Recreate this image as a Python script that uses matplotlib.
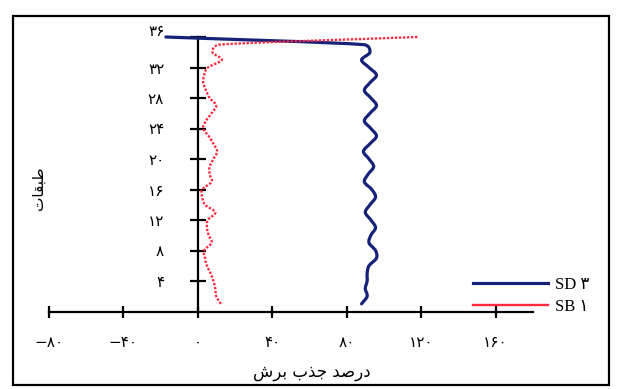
import numpy as np
import matplotlib
matplotlib.use("Agg")
import matplotlib.pyplot as plt
from matplotlib.path import Path
from matplotlib.patches import PathPatch, Rectangle
from matplotlib.lines import Line2D
from matplotlib.font_manager import FontProperties

plt.rcParams['font.family'] = ['DejaVu Sans']

# storeys 1..36 and shear share (%) for the two systems
stories = list(range(1, 37))
sb1 = [12.5, 10, 9.5, 8.5, 7, 5, 4, 3.5, 7.5, 6, 5, 5.5, 9.5, 4, 2.5, 2.5, 7.5, 6.5,
       6.5, 8.5, 10.5, 8.5, 6, 3, 4.5, 7.5, 10, 6.5, 4.5, 3, 3.5, 5.5, 13, 8, 12, 118]
sd3 = [88, 91, 90, 91, 91, 92, 96, 95.5, 92, 93, 95.5, 93, 90, 92.5, 95.5, 93.5, 89.5, 91.5,
       94.5, 92, 89, 92.5, 96, 93, 89.5, 92.5, 96, 93, 89.5, 92.5, 96, 92, 88, 92.5, 89, -17]

xticks = [-80, -40, 0, 40, 80, 120, 160]
xticklabels = ['−۸۰', '−۴۰', '۰', '۴۰', '۸۰', '۱۲۰', '۱۶۰']
yticks = [4, 8, 12, 16, 20, 24, 28, 32, 36]
yticklabels = ['۴', '۸', '۱۲', '۱۶', '۲۰', '۲۴', '۲۸', '۳۲', '']

# pre-shaped (visual order) Persian labels
xlabel = '\uFEB5\uFEAE\uFE91 \uFE8F\uFEAC\uFE9F \uFEAA\uFEBB\uFEAD\uFEA9'
ylabel = '\uFE95\uFE8E\uFED8\uFE92\uFEC3'
top_label = '۳۶'
series_names = ['SD ۳', 'SB ۱']

blue = '#16217a'
red = '#ff2a3f'

W, H = 618, 389
fig = plt.figure(figsize=(W / 100, H / 100), dpi=100)
fig.patch.set_facecolor('white')

# outer frame
fig.add_artist(Rectangle((13 / W, 1 - 385 / H), (609 - 13) / W, (385 - 16) / H,
                         transform=fig.transFigure, fill=False, lw=1.6, ec='black'))

ax = fig.add_axes([48.5 / W, 1 - 311.5 / H, (533 - 48.5) / W, (311.5 - 37) / H])
ax.set_xlim(-80, 180)
ax.set_ylim(0, 36)
ax.set_facecolor('none')

for s in ['top', 'right']:
    ax.spines[s].set_visible(False)
ax.spines['left'].set_position(('data', 0))
ax.spines['left'].set_linewidth(1.6)
ax.spines['bottom'].set_linewidth(1.6)

ax.set_xticks(xticks)
ax.set_xticklabels(xticklabels, fontsize=11)
ax.set_yticks(yticks)
ax.set_yticklabels(yticklabels, fontsize=11)
ax.tick_params(axis='x', direction='inout', length=8, width=1.6, pad=13)
ax.tick_params(axis='y', direction='inout', length=12, width=1.6, pad=18)

ax.annotate(top_label, xy=(0, 36), xytext=(-33, 6), textcoords='offset pixels',
            ha='right', va='center', fontsize=11)


def smooth_patch(xs, ys, k=0.6, **kw):
    """Smoothed line through the points (Catmull-Rom Bezier with clamped handles)."""
    pts = ax.transData.transform(np.column_stack([xs, ys]))
    P = np.vstack([2 * pts[0] - pts[1], pts, 2 * pts[-1] - pts[-2]])
    verts = [pts[0]]
    codes = [Path.MOVETO]

    def handle(v, limit):
        n = np.hypot(*v)
        return v if n <= limit or n == 0 else v * (limit / n)

    for i in range(1, len(P) - 2):
        p0, p1, p2, p3 = P[i - 1], P[i], P[i + 1], P[i + 2]
        seg = np.hypot(*(p2 - p1))
        h1 = handle((p2 - p0) / 6, k * seg)
        h2 = handle((p3 - p1) / 6, k * seg)
        verts += [p1 + h1, p2 - h2, p2]
        codes += [Path.CURVE4] * 3
    verts = ax.transData.inverted().transform(np.array(verts))
    patch = PathPatch(Path(verts, codes), fill=False, transform=ax.transData,
                      clip_on=False, **kw)
    ax.add_patch(patch)


smooth_patch(sd3, stories, ec=blue, lw=2.3, capstyle='round', joinstyle='round', zorder=3)
smooth_patch(sb1, stories, ec=red, lw=1.7, linestyle=(0, (1, 0.7)), zorder=4)

ax.set_xlabel(xlabel, fontsize=12)
ax.xaxis.set_label_coords(312 / W, 1 - 372 / H, transform=fig.transFigure)
ax.set_ylabel(ylabel, fontsize=11)
ax.yaxis.set_label_coords(38 / W, 1 - 188 / H, transform=fig.transFigure)
ax.xaxis.label.set_va('center')
ax.yaxis.label.set_va('center')

handles = [Line2D([], [], color=blue, lw=2.3),
           Line2D([], [], color=red, lw=1.7)]
leg = ax.legend(handles, series_names, loc='upper left',
                bbox_to_anchor=(473 / W, 1 - 277 / H), bbox_transform=fig.transFigure,
                frameon=False, borderpad=0, borderaxespad=0, handlelength=4.5,
                handletextpad=0.4, labelspacing=0.36,
                prop=FontProperties(family=['Liberation Serif', 'DejaVu Sans'], size=12))

fig.savefig('out.png', dpi=100, facecolor='white')
